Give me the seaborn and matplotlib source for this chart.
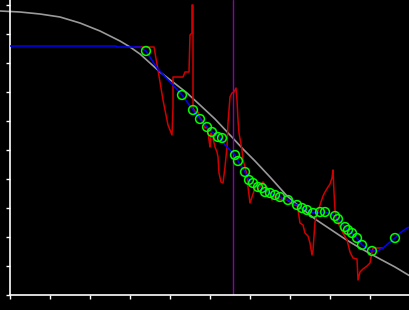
import numpy as np
import pandas as pd
import matplotlib
matplotlib.use("Agg")
import matplotlib.pyplot as plt
import seaborn as sns

sns.set_style("dark")

# Smooth reference curve (gray)
curve_x = [-10, 10, 30, 50, 70, 90, 110, 120, 130, 140, 150, 163, 177, 190, 205, 220,
           233, 245, 260, 277, 290, 305, 320, 335, 350, 370, 385, 400]
curve_y = [284, 283, 281, 278, 272, 264, 254, 248, 241, 232, 223, 213, 202, 190, 176, 160,
           146, 134, 118, 99, 88, 76, 66, 56, 47, 36, 28, 19]

# Fitted line (blue)
fit_x = [0, 106, 107, 130, 136, 147, 160, 172, 183, 191, 198, 201, 209, 216, 225, 228, 235,
         239, 243, 248, 252, 256, 260, 265, 270, 278, 287, 292, 297, 303, 310, 315, 325, 328,
         335, 338, 342, 347, 352, 362, 367, 373, 380, 385, 390, 397, 400]
fit_y = [249, 249, 248, 248, 244, 227, 213, 200, 185, 175, 167, 164, 158, 149, 140, 134, 123,
         115, 112, 108, 107, 104, 102, 100, 98, 95, 90, 87, 85, 82, 83, 83, 79, 76,
         68, 65, 62, 57, 50, 44, 44, 47, 53, 57, 62, 67, 68]

# Observations (green circles)
obs_x = [136, 172, 183, 190, 197, 202, 208, 212, 225, 228, 235, 239, 243, 248, 252, 255, 260,
         265, 270, 278, 287, 292, 297, 303, 310, 315, 325, 328, 335, 338, 342, 347, 352, 362, 385]
obs_y = [244, 200, 185, 176, 168, 163, 158, 157, 140, 134, 123, 115, 112, 108, 107, 103, 102,
         100, 98, 95, 90, 87, 85, 82, 83, 83, 79, 76, 68, 65, 62, 57, 50, 44, 57]

# Raw signal (red)
raw_x = [125, 144, 148, 153, 158, 162, 163, 163, 173, 175, 179, 180, 182, 182, 183, 183, 186,
         188, 190, 193, 195, 197, 198, 199, 200, 201, 202, 203, 205, 207, 208, 209, 211, 213,
         215, 217, 218, 220, 222, 224, 226, 227, 228, 229, 232, 233, 235, 237, 238, 240, 242,
         245, 247, 248, 252, 253, 255, 257, 260, 262, 263, 267, 270, 273, 277, 280, 283, 287,
         288, 290, 293, 295, 298, 300, 302, 303, 305, 307, 313, 315, 318, 320, 322, 323, 324,
         325, 327, 330, 333, 337, 340, 343, 347, 348, 350, 353, 357, 360, 362, 363, 373]
raw_y = [248, 248, 225, 195, 170, 160, 188, 218, 218, 223, 223, 260, 262, 290, 290, 187, 182,
         183, 177, 173, 167, 168, 164, 155, 148, 162, 160, 157, 148, 143, 138, 122, 113, 112,
         128, 148, 172, 198, 202, 203, 207, 195, 175, 162, 145, 135, 128, 120, 108, 92, 98,
         107, 110, 105, 112, 113, 110, 103, 102, 95, 98, 98, 95, 97, 95, 93, 90, 90,
         85, 72, 70, 62, 59, 52, 40, 45, 73, 81, 99, 103, 108, 111, 117, 125, 103,
         85, 75, 68, 62, 55, 43, 37, 36, 15, 23, 26, 29, 32, 43, 47, 47]

marker_x = 223.5
x_ticks = list(range(0, 401, 40))
y_ticks = list(range(0, 296, 29))

fig = plt.figure(figsize=(4.1, 3.1), dpi=100, facecolor="black")
ax = fig.add_axes([10 / 410, 15 / 310, 400 / 410, 295 / 310])
ax.set_facecolor("black")

sns.lineplot(x=curve_x, y=curve_y, sort=False, estimator=None, color="#9a9a9a",
             linewidth=1.2, ax=ax, zorder=1)
ax.lines[-1].set_clip_on(False)
sns.lineplot(x=raw_x, y=raw_y, sort=False, estimator=None, color="#d00000",
             linewidth=1.1, ax=ax, zorder=2)
ax.axvline(marker_x, color="#8a00b4", linewidth=1.0, zorder=2.5)
sns.lineplot(x=fit_x, y=fit_y, sort=False, estimator=None, color="#0000ff",
             linewidth=1.1, ax=ax, zorder=3)
sns.scatterplot(x=obs_x, y=obs_y, marker="o", s=40, facecolors="none",
                edgecolor="#00ff00", linewidth=1.1, ax=ax, zorder=4)

ax.set_xlim(0, 400)
ax.set_ylim(0, 295)
ax.set_xticks(x_ticks)
ax.set_yticks(y_ticks)
ax.set_xticklabels([])
ax.set_yticklabels([])
ax.grid(False)
for side in ["top", "right"]:
    ax.spines[side].set_visible(False)
for side in ["left", "bottom"]:
    ax.spines[side].set_visible(True)
    ax.spines[side].set_color("white")
    ax.spines[side].set_linewidth(1.2)
ax.tick_params(axis="both", direction="out", length=3, width=1, color="white",
               bottom=True, left=True)
ax.set_xlabel("")
ax.set_ylabel("")

fig.savefig("out.png", dpi=100, facecolor="black")
